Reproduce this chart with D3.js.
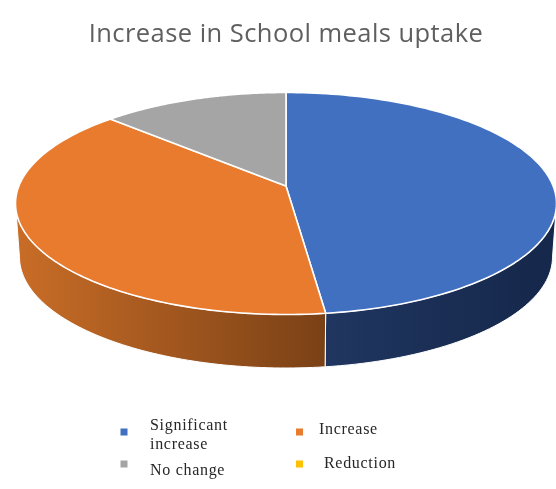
<!DOCTYPE html>
<html><head><meta charset="utf-8">
<script src="https://cdn.jsdelivr.net/npm/d3@7"></script>
<style>html,body{margin:0;padding:0;background:#fff}svg{display:block;filter:blur(.45px)}</style>
</head><body><div id="c"></div>
<script>
const titleText = "Increase in School meals uptake";
const categories = ["Significant increase","Increase","No change","Reduction"];
const values = [48,39,13,0];
const colors = ["#4070bf","#e97b2f","#a5a5a5","#ffc000"];
const wallStops = [["#203660","#15274a"],["#c96d27","#7a4116"],["#666","#666"],["#997300","#997300"]];
const legendLines = [["Significant","increase"],["Increase"],["No change"],["Reduction"]];

const W=556,H=489;
const svg=d3.select("#c").append("svg").attr("width",W).attr("height",H);
const defs=svg.append("defs");
const cx=286, cy=203.5, rx=270.5, ry=111, apexOff=-17.5, depth=53.5, rx2=266.5;
const pk=apexOff/ry;
const s=Math.sqrt(1-pk*pk);
function proj(theta,ox,oy,a){ // theta clockwise from top
  const u=Math.sin(theta), v=-Math.cos(theta), d=1+pk*v;
  return [ox+a*u*s/d, oy+ry*(v+pk)/d];
}
const pie=d3.pie().value(d=>d).sort(null)(values);
const line=d3.line();
const N=120;
const samples=(a,b)=>d3.range(N+1).map(i=>a+(b-a)*i/N);
const topPt=t=>proj(t,cx,cy,rx);
const botPt=t=>proj(t,cx,cy+depth,rx2);

const walls=svg.append("g"), tops=svg.append("g");
pie.forEach((p,i)=>{
  if(p.endAngle-p.startAngle<=0) return;
  const ts=samples(p.startAngle,p.endAngle).filter(t=>topPt(t)[1]>=cy);
  if(ts.length>1){
    const upper=ts.map(topPt), lower=ts.map(botPt).reverse();
    const xs=upper.concat(lower).map(d=>d[0]);
    const id="w"+i;
    const g=defs.append("linearGradient").attr("id",id).attr("gradientUnits","userSpaceOnUse")
      .attr("x1",d3.min(xs)).attr("x2",d3.max(xs)).attr("y1",0).attr("y2",0);
    const [a,b]=wallStops[i];
    g.append("stop").attr("offset",0).attr("stop-color",a);
    g.append("stop").attr("offset",1).attr("stop-color",b);
    walls.append("path").attr("d",line(upper.concat(lower))+"Z").attr("fill",`url(#${id})`)
      .attr("stroke","#fff").attr("stroke-width",1);
  }
  const arc=samples(p.startAngle,p.endAngle).map(topPt);
  tops.append("path").attr("d",line([[cx,cy+apexOff],...arc])+"Z")
    .attr("fill",colors[i]).attr("stroke","#fff").attr("stroke-width",1.6).attr("stroke-linejoin","round");
});

svg.append("text").attr("x",286).attr("y",41.5).attr("text-anchor","middle")
  .attr("font-family","'Open Sans',sans-serif").attr("font-size",25.5).attr("letter-spacing",0.45).attr("fill","#5f5f5f").text(titleText);

const legendX=[124,299.5,124,299.5], legendY=[432,432,464,464];
const textX=[150,319,150,324], textY=[[429.5,448.5],[434],[475],[467.5]];
const lg=svg.append("g");
categories.forEach((n,i)=>{
  lg.append("rect").attr("x",legendX[i]-3.5).attr("y",legendY[i]-3.5).attr("width",7).attr("height",7).attr("fill",colors[i]);
  legendLines[i].forEach((t,j)=>{
    lg.append("text").attr("x",textX[i]).attr("y",textY[i][j])
      .attr("font-family","'Liberation Serif',serif").attr("font-size",16).attr("letter-spacing",0.7).attr("fill","#262626").text(t);
  });
});
</script></body></html>
